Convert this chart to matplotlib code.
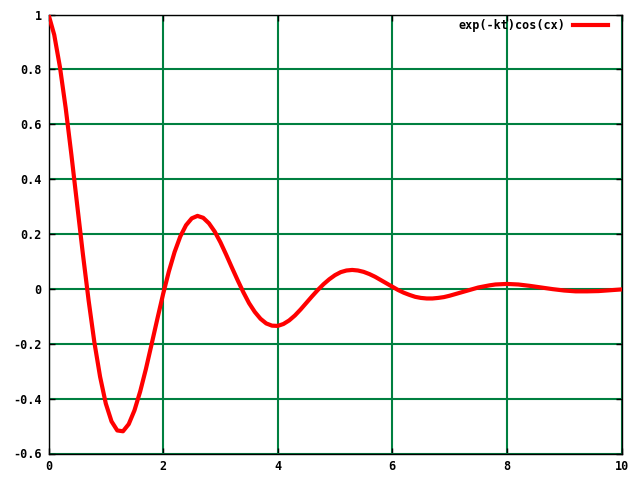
import matplotlib
matplotlib.use("Agg")
import matplotlib.pyplot as plt

# values
t_vals = [0.0, 0.1, 0.2, 0.3, 0.4, 0.5, 0.6, 0.7, 0.8, 0.9,
          1.0, 1.1, 1.2, 1.3, 1.4, 1.5, 1.6, 1.7, 1.8, 1.9,
          2.0, 2.1, 2.2, 2.3, 2.4, 2.5, 2.6, 2.7, 2.8, 2.9,
          3.0, 3.1, 3.2, 3.3, 3.4, 3.5, 3.6, 3.7, 3.8, 3.9,
          4.0, 4.1, 4.2, 4.3, 4.4, 4.5, 4.6, 4.7, 4.8, 4.9,
          5.0, 5.1, 5.2, 5.3, 5.4, 5.5, 5.6, 5.7, 5.8, 5.9,
          6.0, 6.1, 6.2, 6.3, 6.4, 6.5, 6.6, 6.7, 6.8, 6.9,
          7.0, 7.1, 7.2, 7.3, 7.4, 7.5, 7.6, 7.7, 7.8, 7.9,
          8.0, 8.2, 8.4, 8.6, 8.8, 9.0, 9.2, 9.4, 9.6, 9.8, 10.0]
y_vals = [1.0, 0.926, 0.808, 0.659, 0.488, 0.307, 0.127, -0.042, -0.194, -0.320,
          -0.418, -0.483, -0.516, -0.519, -0.493, -0.443, -0.374, -0.292, -0.201, -0.109,
          -0.019, 0.063, 0.134, 0.191, 0.232, 0.257, 0.266, 0.259, 0.239, 0.209,
          0.170, 0.125, 0.078, 0.032, -0.012, -0.052, -0.084, -0.109, -0.126, -0.134,
          -0.135, -0.128, -0.115, -0.097, -0.075, -0.051, -0.027, -0.004, 0.017, 0.035,
          0.050, 0.061, 0.067, 0.069, 0.067, 0.062, 0.054, 0.044, 0.032, 0.020,
          0.008, -0.004, -0.014, -0.022, -0.029, -0.033, -0.035, -0.035, -0.033, -0.030,
          -0.025, -0.019, -0.013, -0.007, -0.001, 0.005, 0.009, 0.013, 0.016, 0.017,
          0.018, 0.016, 0.011, 0.005, -0.001, -0.006, -0.009, -0.009, -0.008, -0.005, -0.002]

x_ticks = [0, 2, 4, 6, 8, 10]
y_ticks = [-0.6, -0.4, -0.2, 0, 0.2, 0.4, 0.6, 0.8, 1]
y_labels = ["-0.6", "-0.4", "-0.2", "0", "0.2", "0.4", "0.6", "0.8", "1"]

font = {"family": "DejaVu Sans Mono", "weight": "bold", "size": 8.5}

fig = plt.figure(figsize=(6.4, 4.8), dpi=100)
ax = fig.add_axes([48.5 / 640, 1 - 453.5 / 480, 573 / 640, 439 / 480])

ax.plot(t_vals, y_vals, color="#ff0000", linewidth=3.0, label="exp(-kt)cos(cx)",
        solid_joinstyle="round", zorder=3)

ax.set_xlim(0, 10)
ax.set_ylim(-0.6, 1)
ax.set_xticks(x_ticks)
ax.set_xticklabels([str(v) for v in x_ticks], fontdict=font)
ax.set_yticks(y_ticks)
ax.set_yticklabels(y_labels, fontdict=font)

ax.set_axisbelow(True)
ax.grid(True, color="#008040", linewidth=1.5)
ax.tick_params(direction="in", length=4, width=1, color="black",
               top=True, right=True, pad=5)
for s in ax.spines.values():
    s.set_color("black")
    s.set_linewidth(1.0)

ax.legend(loc="upper right", bbox_to_anchor=(0.985, 1.0), frameon=False,
          markerfirst=False, handlelength=3.0, prop=font,
          borderaxespad=0, handletextpad=0.6)

fig.savefig("out.png", dpi=100)
